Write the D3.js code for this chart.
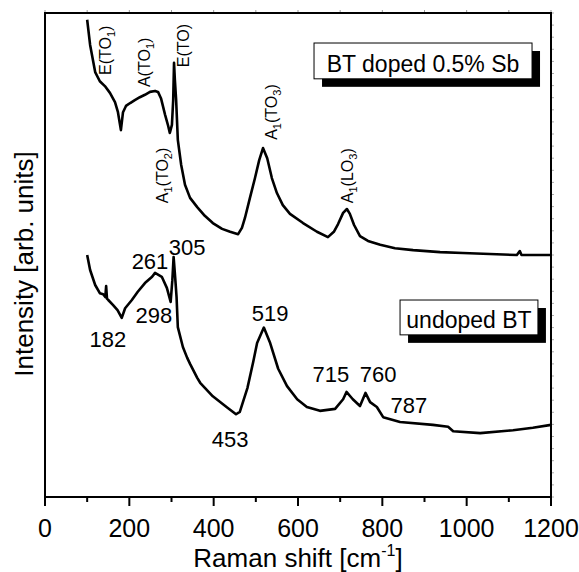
<!DOCTYPE html>
<html>
<head>
<meta charset="utf-8">
<script src="https://cdn.jsdelivr.net/npm/d3@7"></script>
<style>
  body { margin: 0; background: #fff; }
  text { font-family: "Liberation Sans", Arial, sans-serif; fill: #000; }
</style>
</head>
<body>
<div id="board"></div>
<script>
// doped sample [raman shift, intensity a.u.]
var doped = [
  [100,98.6],[107,93.4],[119,87.8],[130,85.9],[142,84.9],[154,83.5],[166,81.6],[173,79.5],
  [180,75.8],[185,79.5],[192,80.8],[202,81.4],[213,82.0],[225,82.6],[237,83.1],[249,83.7],
  [261,83.9],[268,83.7],[275,82.4],[285,78.9],[292,76.7],[296,75.2],[301,76.9],[304,82.0],
  [306,89.7],[308,86.2],[311,82.0],[315,73.8],[323,68.6],[332,64.5],[344,61.8],[361,59.9],
  [379,58.1],[398,56.6],[420,55.4],[439,54.8],[458,54.3],[467,55.6],[474,57.6],[486,61.8],
  [498,65.9],[508,69.6],[517,72.1],[527,70.0],[538,65.9],[550,62.8],[564,60.3],[581,58.5],
  [612,56.6],[645,54.8],[671,53.7],[685,54.8],[695,56.4],[707,58.7],[716,59.5],[723,58.5],
  [733,56.2],[747,53.9],[766,52.9],[795,52.1],[830,51.4],[873,51.0],[937,50.6],[991,50.4],
  [1055,50.2],[1119,50.0],[1126,50.8],[1130,50.0],[1200,50.0]
];
// undoped sample
var undoped = [
  [100,50.0],[107,46.9],[119,43.8],[130,42.1],[138,41.9],[143,41.3],[145,43.6],[147,41.0],
  [150,40.7],[161,39.7],[172,38.6],[182,37.0],[190,39.0],[206,40.7],[220,42.4],[237,44.2],
  [254,45.5],[261,46.3],[277,45.5],[289,43.2],[298,40.3],[302,44.8],[305,49.6],[309,45.0],
  [312,41.3],[315,35.1],[327,31.0],[337,28.8],[344,27.5],[361,24.6],[368,23.6],[398,20.8],
  [432,18.5],[453,17.1],[462,17.6],[480,22.5],[494,28.0],[503,31.8],[519,35.0],[534,31.8],
  [553,26.5],[574,22.9],[598,20.2],[621,18.6],[652,17.8],[688,18.2],[707,20.2],[715,21.7],
  [730,20.2],[747,18.8],[760,21.5],[771,19.6],[787,18.6],[802,16.5],[842,15.5],[920,14.9],
  [956,14.5],[968,13.6],[1032,13.2],[1110,13.8],[1157,14.3],[1200,14.9]
];

var xTicks = [0,200,400,600,800,1000,1200];
var xMinor = [100,300,500,700,900,1100];
var legendNames = ['BT doped 0.5% Sb','undoped BT'];

// mode labels (rotated) on the doped curve
var modeLabels = [
  {t:'E(TO', s:'1', r:')', x:157, y:87.2},
  {t:'A(TO', s:'1', r:')', x:249, y:84.7},
  {t:'E(TO)', x:341, y:88.8},
  {t:'A', s:'1', r:'(TO', s2:'2', r2:')', x:292, y:60.7},
  {t:'A', s:'1', r:'(TO', s2:'3', r2:')', x:550, y:73.8},
  {t:'A', s:'1', r:'(LO', s2:'3', r2:')', x:730, y:60.7}
];
// peak positions on the undoped curve
var peakLabels = [
  {t:'182', x:149, y:31.0},
  {t:'261', x:249, y:47.1},
  {t:'298', x:258, y:36.0},
  {t:'305', x:337, y:50.0},
  {t:'519', x:534, y:36.4},
  {t:'453', x:439, y:10.3},
  {t:'715', x:678, y:23.8},
  {t:'760', x:790, y:23.8},
  {t:'787', x:863, y:17.4}
];

var W = 579, H = 572;
var svg = d3.select('#board').append('svg').attr('width',W).attr('height',H);

var x = d3.scaleLinear().domain([0,1200]).range([45,551]);
var y = d3.scaleLinear().domain([0,100]).range([497,13]);

// frame
svg.append('rect')
  .attr('x',x(0)).attr('y',y(100))
  .attr('width',x(1200)-x(0)).attr('height',y(0)-y(100))
  .style('fill','none').style('stroke','#000').style('stroke-width',2);

// bottom axis
var gx = svg.append('g').attr('transform','translate(0,'+y(0)+')');
gx.selectAll('line.maj').data(xTicks).enter().append('line')
  .attr('x1',function(d){return x(d);}).attr('x2',function(d){return x(d);})
  .attr('y1',0).attr('y2',9).style('stroke','#000').style('stroke-width',2);
gx.selectAll('line.min').data(xMinor).enter().append('line')
  .attr('x1',function(d){return x(d);}).attr('x2',function(d){return x(d);})
  .attr('y1',0).attr('y2',5).style('stroke','#000').style('stroke-width',2);
gx.selectAll('text').data(xTicks).enter().append('text')
  .attr('x',function(d){return x(d);}).attr('y',40)
  .attr('text-anchor','middle').style('font-size','25px')
  .text(function(d){return d;});

// faint ticks on top and right
svg.selectAll('line.top').data(xTicks.concat(xMinor)).enter().append('line')
  .attr('x1',function(d){return x(d);}).attr('x2',function(d){return x(d);})
  .attr('y1',y(100)-1).attr('y2',y(100)-3).style('stroke','#999').style('stroke-width',1);
svg.selectAll('line.right').data(d3.range(0,101,2.5)).enter().append('line')
  .attr('x1',x(1200)+1).attr('x2',x(1200)+3)
  .attr('y1',function(d){return y(d);}).attr('y2',function(d){return y(d);})
  .style('stroke','#aaa').style('stroke-width',1);

// titles
var xt = svg.append('text').attr('x',(x(0)+x(1200))/2).attr('y',567)
  .attr('text-anchor','middle').style('font-size','26px');
xt.append('tspan').text('Raman shift [cm');
xt.append('tspan').attr('dy',-11).style('font-size','16px').text('-1');
xt.append('tspan').attr('dy',11).text(']');

svg.append('text').attr('transform','translate(33,264) rotate(-90)')
  .attr('text-anchor','middle').style('font-size','26px')
  .text('Intensity [arb. units]');

// spectra
var line = d3.line().x(function(d){return x(d[0]);}).y(function(d){return y(d[1]);});
[doped, undoped].forEach(function(s){
  svg.append('path').datum(s).attr('d',line)
    .style('fill','none').style('stroke','#000')
    .style('stroke-width',2.6).style('stroke-linejoin','round');
});

// legend boxes
var boxes = [
  {name:legendNames[0], x0:638, x1:1155, y0:93.8, y1:86.4},
  {name:legendNames[1], x0:842, x1:1169, y0:40.7, y1:33.5}
];
boxes.forEach(function(b){
  var bx = x(b.x0), bw = x(b.x1)-x(b.x0), by = y(b.y0), bh = y(b.y1)-y(b.y0);
  svg.append('rect').attr('x',bx+8).attr('y',by+8).attr('width',bw).attr('height',bh)
    .style('fill','#000');
  svg.append('rect').attr('x',bx).attr('y',by).attr('width',bw).attr('height',bh)
    .style('fill','#fff').style('stroke','#000').style('stroke-width',1);
  svg.append('text').attr('x',bx+bw/2).attr('y',by+bh-7)
    .attr('text-anchor','middle').style('font-size','23px').text(b.name);
});

// rotated mode labels
modeLabels.forEach(function(m){
  var t = svg.append('text')
    .attr('transform','translate('+x(m.x)+','+y(m.y)+') rotate(-90)')
    .style('font-size','16px');
  t.append('tspan').text(m.t);
  if(m.s){
    t.append('tspan').attr('dy',4).style('font-size','11px').text(m.s);
    t.append('tspan').attr('dy',-4).text(m.r);
  }
  if(m.s2){
    t.append('tspan').attr('dy',4).style('font-size','11px').text(m.s2);
    t.append('tspan').attr('dy',-4).text(m.r2);
  }
});

// peak numbers
svg.selectAll('text.peak').data(peakLabels).enter().append('text')
  .attr('x',function(d){return x(d.x);}).attr('y',function(d){return y(d.y);})
  .attr('text-anchor','middle').style('font-size','22px')
  .text(function(d){return d.t;});
</script>
</body>
</html>
